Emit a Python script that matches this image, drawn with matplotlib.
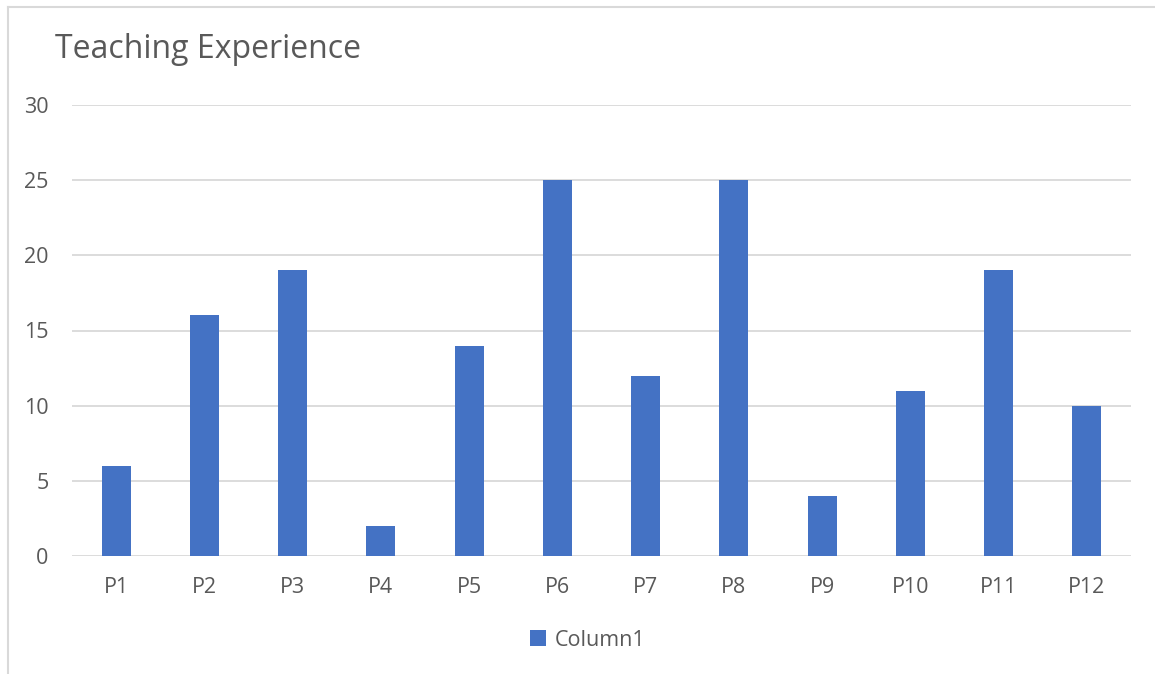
import matplotlib.pyplot as plt
from matplotlib.lines import Line2D

# Years of teaching experience per participant
participants = ["P1", "P2", "P3", "P4", "P5", "P6", "P7", "P8", "P9", "P10", "P11", "P12"]
years = [6, 16, 19, 2, 14, 25, 12, 25, 4, 11, 19, 10]
yticks = [0, 5, 10, 15, 20, 25, 30]

plt.rcParams['font.family'] = ['Open Sans', 'DejaVu Sans']
text_color = "#595959"
grid_color = "#D9D9D9"
bar_color = "#4472C4"

W, H = 1155, 674
fig = plt.figure(figsize=(W / 100, H / 100), dpi=100)
ax = fig.add_axes([72 / W, 1 - 556 / H, (1131 - 72) / W, (556 - 105) / H])

x_pos = range(len(participants))
ax.bar(x_pos, years, width=0.33, color=bar_color, label="Column1", zorder=3)

ax.set_xlim(-0.5, len(participants) - 0.5)
ax.set_ylim(0, 30)
ax.set_yticks(yticks)
ax.set_xticks(list(x_pos))
ax.set_xticklabels(participants)

# Horizontal gridlines only, no frame
ax.grid(axis="y", color=grid_color, linewidth=1.3, zorder=0)
for s in ax.spines.values():
    s.set_visible(False)
ax.tick_params(axis="both", length=0, labelsize=15.5, labelcolor=text_color)
ax.tick_params(axis="y", pad=17)
ax.tick_params(axis="x", pad=15)

fig.text(55 / W, 1 - 58 / H, "Teaching Experience", fontsize=23,
         color=text_color, ha="left", va="baseline")

leg = fig.legend(loc="center", bbox_to_anchor=(588 / W, 1 - 640 / H), frameon=False,
                 fontsize=15.5, handlelength=0.75, handleheight=0.75, handletextpad=0.4)
for t in leg.get_texts():
    t.set_color(text_color)

# Chart area border on the left and top edges
fig.add_artist(Line2D([8 / W, 8 / W], [0, 1 - 7 / H], transform=fig.transFigure,
                      color=grid_color, linewidth=1.5))
fig.add_artist(Line2D([8 / W, 1], [1 - 7 / H, 1 - 7 / H], transform=fig.transFigure,
                      color=grid_color, linewidth=1.5))

fig.savefig("out.png", dpi=100)
